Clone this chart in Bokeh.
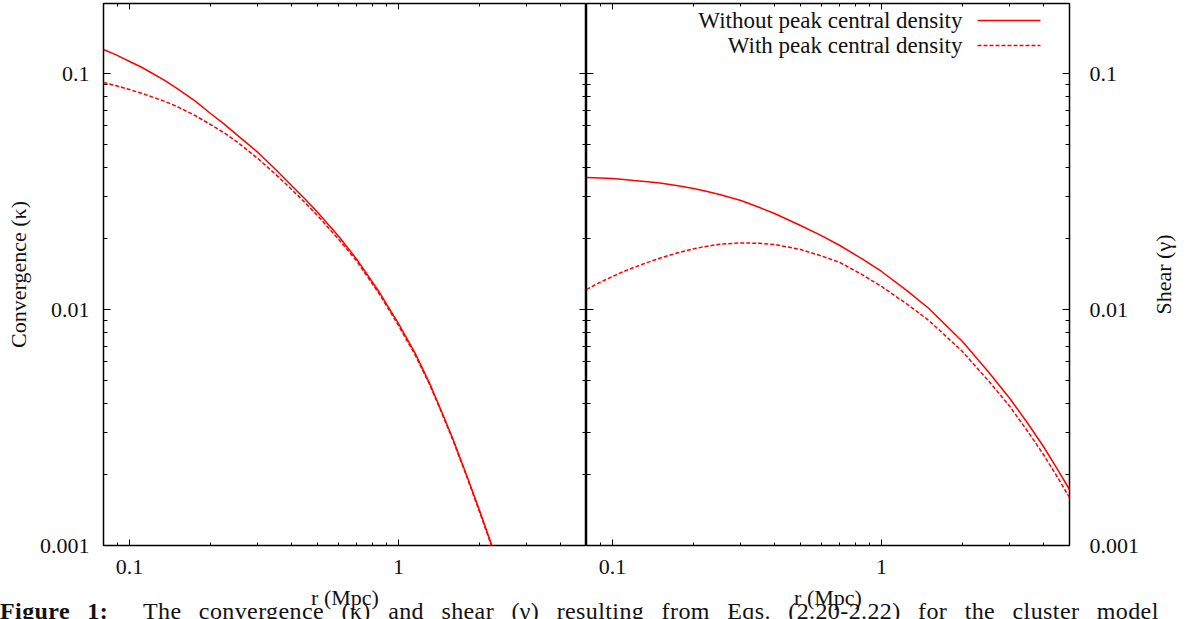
import math
from bokeh.plotting import figure
from bokeh.layouts import row, column
from bokeh.models import Range1d, LogAxis, FixedTicker, CustomJSTickFormatter, Label, Arrow, Div
from bokeh.embed import file_html
from bokeh.resources import INLINE

# ---------------- data ----------------
r_kappa = [0.08, 0.09, 0.1, 0.11, 0.12, 0.135, 0.15, 0.175, 0.2, 0.225, 0.25, 0.3, 0.35, 0.4, 0.45,
           0.5, 0.6, 0.7, 0.85, 1.0, 1.15, 1.3, 1.45, 1.6, 1.8, 2.0, 2.25]
kappa_without = [0.1264, 0.1194, 0.1124, 0.1068, 0.1010, 0.0936, 0.0864, 0.0765, 0.0677, 0.0610, 0.0551,
                 0.0463, 0.0391, 0.0335, 0.0293, 0.0258, 0.0204, 0.0163, 0.0118, 0.00872, 0.00657,
                 0.00491, 0.003667, 0.00279, 0.001956, 0.00141, 0.000962]
kappa_with = [0.0916, 0.0885, 0.0855, 0.0827, 0.0799, 0.0762, 0.0725, 0.0664, 0.0608, 0.0560, 0.0515,
              0.0436, 0.0373, 0.0323, 0.0283, 0.0250, 0.0198, 0.0160, 0.0116, 0.00855, 0.00645,
              0.00486, 0.003632, 0.00276, 0.001937, 0.00139, 0.000952]

r_gamma = [0.08, 0.09, 0.1, 0.11, 0.12, 0.135, 0.15, 0.175, 0.2, 0.225, 0.25, 0.3, 0.35, 0.4, 0.5,
           0.6, 0.7, 0.85, 1.0, 1.25, 1.5, 2.0, 2.5, 3.0, 3.5, 4.0, 4.5, 5.0]
gamma_without = [0.03625, 0.03608, 0.03590, 0.03556, 0.03520, 0.03477, 0.03436, 0.03344, 0.03255,
                 0.03164, 0.03072, 0.02897, 0.02712, 0.02551, 0.02270, 0.02051, 0.01867, 0.01634,
                 0.01449, 0.01196, 0.01010, 0.007318, 0.005439, 0.004196, 0.003287, 0.002627,
                 0.002114, 0.001727]
gamma_with = [0.01216, 0.01306, 0.01380, 0.01449, 0.01507, 0.01584, 0.01650, 0.01740, 0.01807,
              0.01855, 0.01891, 0.01915, 0.01908, 0.01885, 0.01796, 0.01684, 0.01582, 0.01402,
              0.01252, 0.01050, 0.008982, 0.006637, 0.004985, 0.003882, 0.003041, 0.002430,
              0.001956, 0.001597]

series_names = ["Without peak central density", "With peak central density"]

x_major = [0.1, 1.0]
x_minor = [0.09, 0.2, 0.3, 0.4, 0.5, 0.6, 0.7, 0.8, 0.9, 2.0, 3.0, 4.0]
y_major = [0.001, 0.01, 0.1]
y_minor = [0.002, 0.003, 0.004, 0.005, 0.006, 0.007, 0.008, 0.009,
           0.02, 0.03, 0.04, 0.05, 0.06, 0.07, 0.08, 0.09]

x_label = "r (Mpc)"
y_label_left = "Convergence (κ)"
y_label_right = "Shear (γ)"
caption_bold = "Figure 1:"
caption_text = "The convergence (κ) and shear (γ) resulting from Eqs. (2.20-2.22) for the cluster model"

# ---------------- layout constants ----------------
FONT = "Liberation Serif"
FS = "22px"
TXT = "#111111"
RED = "#ff0000"

X_MIN, X_MAX = 0.08, 5.0
Y_MIN = 0.001
W = 1189
H = 619
TOP = 3
BOTTOM = 74
FRAME_W = 483
FRAME_H = H - TOP - BOTTOM
DEC_Y = 236.0
Y_MAX = 10 ** (math.log10(Y_MIN) + FRAME_H / DEC_Y)
DEC_X = FRAME_W / math.log10(X_MAX / X_MIN)
PAGE_FRAME_BOTTOM = TOP + FRAME_H

LEFT_STRIP = 32            # strip carrying the left y label
F1 = 103                   # left edge of left frame (page px)
F2 = F1 + FRAME_W          # left edge of right frame (page px)
RIGHT_TICKS = 76           # room for the right tick labels
RIGHT_STRIP = W - F2 - FRAME_W - RIGHT_TICKS


def x_at(px, frame_left):
    return 10 ** (math.log10(X_MIN) + (px - frame_left) / DEC_X)


def y_at(py):
    return 10 ** (math.log10(Y_MIN) + (PAGE_FRAME_BOTTOM - py) / DEC_Y)


def style_axis(ax, ticker, labels, maj_in, min_in, standoff=0):
    ax.ticker = ticker
    ax.axis_line_color = None
    ax.major_tick_in = maj_in
    ax.major_tick_out = 0
    ax.minor_tick_in = min_in
    ax.minor_tick_out = 0
    ax.major_tick_line_color = "black"
    ax.minor_tick_line_color = "black"
    ax.major_tick_line_width = 1
    ax.minor_tick_line_width = 1
    if labels:
        ax.formatter = CustomJSTickFormatter(code="return tick.toString();")
        ax.major_label_text_font = FONT
        ax.major_label_text_font_size = FS
        ax.major_label_text_color = TXT
        ax.major_label_standoff = standoff
    else:
        ax.formatter = CustomJSTickFormatter(code="return '';")
        ax.major_label_text_font_size = "0px"
        ax.major_label_standoff = 0


def set_label(ax, text, standoff):
    ax.axis_label = text
    ax.axis_label_text_font = FONT
    ax.axis_label_text_font_size = FS
    ax.axis_label_text_font_style = "normal"
    ax.axis_label_text_color = TXT
    ax.axis_label_standoff = standoff


def make_panel(width, min_left, min_right, yloc):
    p = figure(width=width, height=H, x_axis_type="log", y_axis_type="log",
               x_range=Range1d(X_MIN, X_MAX), y_range=Range1d(Y_MIN, Y_MAX),
               y_axis_location=yloc, output_backend="svg", toolbar_location=None,
               min_border_left=min_left, min_border_right=min_right,
               min_border_top=TOP, min_border_bottom=BOTTOM)
    p.xgrid.visible = False
    p.ygrid.visible = False
    p.background_fill_color = "white"
    p.border_fill_color = "white"
    p.outline_line_color = "black"
    p.outline_line_width = 1.5
    p.outline_line_alpha = 1.0
    xa = p.xaxis[0]
    ya = p.yaxis[0]
    style_axis(xa, FixedTicker(ticks=x_major, minor_ticks=x_minor), True, 6, 3, 14)
    set_label(xa, x_label, 8)
    style_axis(ya, FixedTicker(ticks=y_major, minor_ticks=y_minor), True, 7, 4,
               14 if yloc == "left" else 20)
    top = LogAxis()
    style_axis(top, FixedTicker(ticks=x_major, minor_ticks=x_minor), False, 6, 3)
    p.add_layout(top, "above")
    other = LogAxis()
    style_axis(other, FixedTicker(ticks=y_major, minor_ticks=y_minor), False, 7, 4)
    p.add_layout(other, "right" if yloc == "left" else "left")
    return p


def label_strip(width, label_right_edge, text):
    """A narrow, empty figure whose (left) axis label is the rotated y title."""
    s = figure(width=width, height=H, x_range=Range1d(0, 1), y_range=Range1d(0, 1),
               x_axis_location=None, y_axis_location="left",
               output_backend="svg", toolbar_location=None,
               min_border_left=label_right_edge, min_border_right=0,
               min_border_top=TOP, min_border_bottom=BOTTOM)
    s.outline_line_color = None
    s.xgrid.visible = False
    s.ygrid.visible = False
    s.background_fill_color = "white"
    s.border_fill_color = "white"
    ax = s.yaxis[0]
    ax.axis_line_color = None
    ax.major_tick_line_color = None
    ax.minor_tick_line_color = None
    ax.major_tick_in = 0
    ax.major_tick_out = 0
    ax.minor_tick_in = 0
    ax.minor_tick_out = 0
    ax.formatter = CustomJSTickFormatter(code="return '';")
    ax.major_label_text_font_size = "0px"
    ax.major_label_standoff = 0
    set_label(ax, text, 0)
    return s


# ---------------- left y title ----------------
p0 = label_strip(LEFT_STRIP, 30, y_label_left)

# ---------------- left panel: convergence ----------------
p1 = make_panel(F2 - LEFT_STRIP, F1 - LEFT_STRIP, 0, "left")
p1.line(r_kappa, kappa_without, line_color=RED, line_width=1.5)
p1.line(r_kappa, kappa_with, line_color=RED, line_width=1.5, line_dash="4 2")

# ---------------- right panel: shear ----------------
p2 = make_panel(FRAME_W + RIGHT_TICKS, 0, RIGHT_TICKS, "right")
p2.line(r_gamma, gamma_without, line_color=RED, line_width=1.5)
p2.line(r_gamma, gamma_with, line_color=RED, line_width=1.5, line_dash="4 2")

# legend (text right-aligned, sample line on the right)
for i, (name, dash) in enumerate(zip(series_names, ["solid", "4 2"])):
    py = 20 + 25 * i
    p2.add_layout(Label(x=x_at(962, F2), y=y_at(py), text=name, text_align="right",
                        text_baseline="middle", text_font=FONT, text_font_size="23px",
                        text_color=TXT))
    p2.add_layout(Arrow(end=None, x_start=x_at(977, F2), y_start=y_at(py),
                        x_end=x_at(1040, F2), y_end=y_at(py),
                        line_color=RED, line_width=1.5, line_dash=dash))

# ---------------- right y title ----------------
right_strip_left = F2 + FRAME_W + RIGHT_TICKS
p3 = label_strip(RIGHT_STRIP, 1175 - right_strip_left, y_label_right)

# caption strip (cut by the bottom of the window, as in the reference)
CAP_H = 21
caption = Div(text=f"<b>{caption_bold}</b>&nbsp;&nbsp;{caption_text}",
              width=W, height=CAP_H, margin=(-CAP_H, 0, 0, 0),
              styles={"font-family": FONT, "font-size": "24px", "color": TXT,
                      "white-space": "nowrap", "overflow": "hidden", "line-height": "1.15",
                      "word-spacing": "11px", "letter-spacing": "0.4px"})

layout = column(row(p0, p1, p2, p3), caption)
open("out.html", "w").write(file_html(layout, INLINE))
